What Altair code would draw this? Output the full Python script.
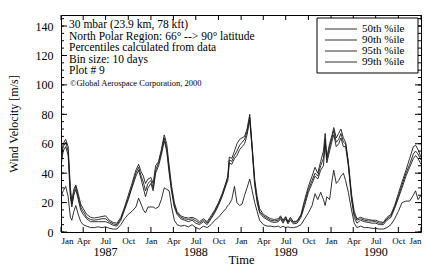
import altair as alt
import pandas as pd

# ---- data ----
dates = [
    "1987-01-01", "1987-01-10", "1987-01-20", "1987-01-30", "1987-02-08", "1987-02-14",
    "1987-02-22", "1987-03-02", "1987-03-12", "1987-03-22", "1987-04-01", "1987-04-15",
    "1987-05-01", "1987-05-16", "1987-06-01", "1987-06-16", "1987-07-01", "1987-07-16",
    "1987-08-01", "1987-08-16", "1987-09-01", "1987-09-16", "1987-10-01", "1987-10-16",
    "1987-11-01", "1987-11-12", "1987-11-22", "1987-12-01", "1987-12-10", "1987-12-20",
    "1988-01-01", "1988-01-10", "1988-01-20", "1988-02-01", "1988-02-12", "1988-02-24",
    "1988-03-05", "1988-03-15", "1988-03-25", "1988-04-05", "1988-04-16", "1988-05-01",
    "1988-05-16", "1988-06-01", "1988-06-16", "1988-07-01", "1988-07-16", "1988-08-01",
    "1988-08-16", "1988-09-01", "1988-09-16", "1988-10-01", "1988-10-16", "1988-11-01",
    "1988-11-08", "1988-11-14", "1988-11-24", "1988-12-05", "1988-12-15", "1988-12-26",
    "1989-01-05", "1989-01-15", "1989-01-25", "1989-02-05", "1989-02-15", "1989-02-25",
    "1989-03-07", "1989-03-17", "1989-04-01", "1989-04-16", "1989-05-01", "1989-05-16",
    "1989-06-01", "1989-06-10", "1989-06-20", "1989-07-01", "1989-07-10", "1989-07-20",
    "1989-08-01", "1989-08-16", "1989-09-01", "1989-09-16", "1989-10-01", "1989-10-16",
    "1989-10-28", "1989-11-08", "1989-11-20", "1989-12-01", "1989-12-08", "1989-12-15",
    "1989-12-26", "1990-01-05", "1990-01-12", "1990-01-22", "1990-02-01", "1990-02-10",
    "1990-02-20", "1990-03-01", "1990-03-12", "1990-03-25", "1990-04-05", "1990-04-16",
    "1990-05-01", "1990-05-16", "1990-06-01", "1990-06-16", "1990-07-01", "1990-07-16",
    "1990-08-01", "1990-08-16", "1990-09-01", "1990-09-16", "1990-10-01", "1990-10-16",
    "1990-11-01", "1990-11-16", "1990-12-01", "1990-12-10", "1990-12-20", "1991-01-01",
]
p50 = [
    24, 28, 31, 24, 10, 8, 14, 18, 12, 7, 5, 4,
    3, 3, 3.5, 3, 3.5, 2.5, 2, 2, 5, 9, 12, 14,
    17, 23, 19, 15, 13, 17, 17, 17, 16, 17, 22, 30,
    29, 28, 17, 8, 5, 4, 4.5, 3.5, 5, 3, 2, 4,
    3, 5, 8, 10, 13, 16, 18, 19, 22, 31, 20, 18,
    19, 25, 30, 36, 28, 20, 14, 8, 5, 4, 4, 3.5,
    4, 3, 4, 3, 3.5, 3, 3, 3.5, 5, 9, 13, 18,
    26, 22, 27, 22, 18, 24, 22, 35, 42, 33, 35, 38,
    40, 35, 27, 15, 6, 3, 4, 3, 3, 2.5, 2.5, 2,
    2, 3, 5, 9, 14, 20, 21, 21, 25, 28, 22, 25,
]
p90 = [
    45, 55, 58, 52, 24, 17, 25, 29, 22, 15, 12, 9,
    7, 7, 7, 7, 7, 6, 4.5, 4, 8, 15, 22, 30,
    38, 42, 36, 30, 24, 30, 33, 28, 40, 45, 52, 62,
    55, 40, 27, 17, 12, 9, 8, 7, 8, 6, 5, 7,
    5, 9, 13, 18, 24, 32, 35, 47, 46, 50, 52, 56,
    58, 60, 66, 76, 55, 32, 20, 13, 10, 8.5, 7, 6.5,
    7, 9, 6, 9, 5.5, 8, 5.5, 6, 10, 18, 27, 33,
    38, 36, 42, 45, 60, 47, 55, 62, 66, 58, 60, 64,
    58, 58, 45, 22, 10, 6, 8, 7, 6.5, 6, 6, 5,
    5, 8, 10, 16, 23, 30, 38, 44, 50, 52, 50, 46,
]
p95 = [
    48, 58, 61, 55, 27, 19, 27, 31, 24, 17, 14, 10,
    8.5, 8, 8.5, 9, 9, 7, 5.5, 5, 9, 16, 23, 31,
    40, 44, 38, 34, 28, 33, 35, 30, 42, 47, 54, 64,
    57, 42, 29, 18, 13, 10, 9, 8.5, 9, 7.5, 6, 8,
    6, 10, 14, 19, 25, 33, 37, 49, 48, 52, 55, 59,
    61, 63, 68, 78, 57, 34, 22, 14, 11, 9.5, 8, 7.5,
    8, 10, 7, 10, 6.5, 9, 6.5, 7, 11, 20, 29, 35,
    40, 38, 45, 50, 63, 49, 58, 64, 69, 61, 63, 67,
    61, 60, 47, 24, 12, 8, 9, 8, 7.5, 7.5, 7, 6,
    6, 9, 11, 17, 24, 32, 40, 46, 53, 55, 53, 49,
]
p99 = [
    50, 60, 63, 58, 30, 21, 29, 32, 26, 19, 16, 12,
    10, 9.5, 10, 10.5, 11, 8, 6.5, 6, 10, 17, 25, 33,
    42, 46, 41, 38, 33, 36, 37, 33, 45, 48, 56, 66,
    60, 45, 31, 20, 14, 11, 10, 9.5, 10, 9, 7, 9,
    7, 11, 15, 20, 26, 34, 38, 51, 50, 55, 60, 63,
    64, 65, 70, 80, 58, 36, 24, 16, 12, 10.5, 9, 8.5,
    9, 11, 8, 10.5, 7, 10, 7, 7.5, 12, 22, 31, 38,
    44, 40, 48, 55, 67, 51, 60, 66, 71, 64, 67, 70,
    64, 61, 48, 26, 14, 9, 10, 9, 8.5, 8, 8, 7,
    6.5, 10, 12, 18, 26, 34, 42, 50, 58, 59, 56, 51,
]
series_names = ["50th %ile", "90th %ile", "95th %ile", "99th %ile"]
notes = [
    "30 mbar (23.9 km, 78 kft)",
    "North Polar Region: 66\u00b0 --> 90\u00b0 latitude",
    "Percentiles calculated from data",
    "Bin size: 10 days",
    "Plot # 9",
]
copyright_note = "\u00a9Global Aerospace Corporation, 2000"
years = ["1987", "1988", "1989", "1990"]
year_label_dates = ["1987-07-01", "1988-07-01", "1989-07-01", "1990-07-01"]
y_major = [0, 20, 40, 60, 80, 100, 120, 140]
y_minor = list(range(0, 150, 5))
x_quarters = [f"{y}-{m:02d}-01" for y in range(1987, 1991) for m in (1, 4, 7, 10)] + ["1991-01-01"]

# ---- build table ----
rows = []
for name, vals in zip(series_names, [p50, p90, p95, p99]):
    for d, v in zip(dates, vals):
        rows.append({"date": d, "series": name, "value": v})
df = pd.DataFrame(rows)

W, H = 360, 217
SERIF = "Liberation Serif"
LINE = "#1a1a1a"

xscale = alt.Scale(type="utc", domain=[alt.DateTime(year=1987, month=1, date=1, utc=True),
                                        alt.DateTime(year=1991, month=1, date=1, utc=True)])
yscale = alt.Scale(domain=[0, 147.5], nice=False, zero=True)

xaxis = alt.Axis(title="Time", tickCount={"interval": "month", "step": 3},
                 labelExpr="utcFormat(datum.value, '%b')", ticks=False, grid=False,
                 domain=False, labelFontSize=9, labelPadding=4, labelOverlap=False,
                 titleFontSize=12.5, titlePadding=8)
yaxis = alt.Axis(title="Wind Velocity [m/s]", values=y_major, tickCount=8, ticks=False,
                 grid=False, domain=False, labelFontSize=12, labelPadding=8,
                 labelOverlap=False, labelFlush=False,
                 titleFontSize=12, titlePadding=15)

lines = alt.Chart(df).mark_line(color=LINE, strokeWidth=0.9, clip=True).encode(
    x=alt.X("date:T", scale=xscale, axis=xaxis, title="Time"),
    y=alt.Y("value:Q", scale=yscale, axis=yaxis, title="Wind Velocity [m/s]"),
    detail="series:N",
)

ymaj = pd.DataFrame({"value": y_major})
ymin = pd.DataFrame({"value": y_minor})
xq = pd.DataFrame({"date": x_quarters})

def ytick(data, x0, x1):
    return alt.Chart(data).mark_rule(color="black", strokeWidth=1).encode(
        y=alt.Y("value:Q", scale=yscale, title="Wind Velocity [m/s]"),
        x=alt.value(x0), x2=alt.value(x1))

def xtick(y0, y1):
    return alt.Chart(xq).mark_rule(color="black", strokeWidth=1).encode(
        x=alt.X("date:T", scale=xscale, title="Time"), y=alt.value(y0), y2=alt.value(y1))

ticks = [
    ytick(ymaj, 0, 6), ytick(ymin, 0, 3), ytick(ymaj, W - 6, W), ytick(ymin, W - 3, W),
    xtick(H, H - 5), xtick(0, 5),
]

year_df = pd.DataFrame({"date": year_label_dates, "label": years})
year_text = alt.Chart(year_df).mark_text(font=SERIF, fontSize=12, baseline="middle",
                                         align="center", color="black").encode(
    x=alt.X("date:T", scale=xscale, title="Time"), y=alt.value(H + 20), text="label:N")

note_layers = []
for i, note in enumerate(notes):
    note_layers.append(
        alt.Chart(pd.DataFrame({"t": [note]})).mark_text(
            font=SERIF, fontSize=11.5, align="left", baseline="middle", color="black"
        ).encode(x=alt.value(8), y=alt.value(10 + 11.6 * i), text="t:N"))
note_layers.append(
    alt.Chart(pd.DataFrame({"t": [copyright_note]})).mark_text(
        font=SERIF, fontSize=8.5, align="left", baseline="middle", color="black"
    ).encode(x=alt.value(9), y=alt.value(10 + 11.6 * 5), text="t:N"))

legend_box = alt.Chart(pd.DataFrame({"a": [0]})).mark_rect(
    fill="white", stroke="black", strokeWidth=1).encode(
    x=alt.value(256), x2=alt.value(357), y=alt.value(3), y2=alt.value(58))

legend_layers = [legend_box]
for i, name in enumerate(series_names):
    yy = 14 + 11 * i
    legend_layers.append(
        alt.Chart(pd.DataFrame({"a": [0]})).mark_rule(color=LINE, strokeWidth=0.9).encode(
            x=alt.value(264), x2=alt.value(296), y=alt.value(yy)))
    legend_layers.append(
        alt.Chart(pd.DataFrame({"t": [name]})).mark_text(
            font=SERIF, fontSize=11, align="left", baseline="middle", color="black"
        ).encode(x=alt.value(301), y=alt.value(yy), text="t:N"))

chart = alt.layer(lines, *ticks, year_text, *note_layers, *legend_layers).properties(
    width=W, height=H,
    autosize=alt.AutoSizeParams(type="none"),
    padding={"left": 53, "top": 7, "right": 7, "bottom": 33},
    background="white",
).configure_axis(
    labelFont=SERIF, titleFont=SERIF, labelColor="black", titleColor="black",
    titleFontWeight="normal",
).configure_view(stroke="black", strokeWidth=1)

chart.save("out.html", embed_options={"renderer": "svg", "actions": False})
